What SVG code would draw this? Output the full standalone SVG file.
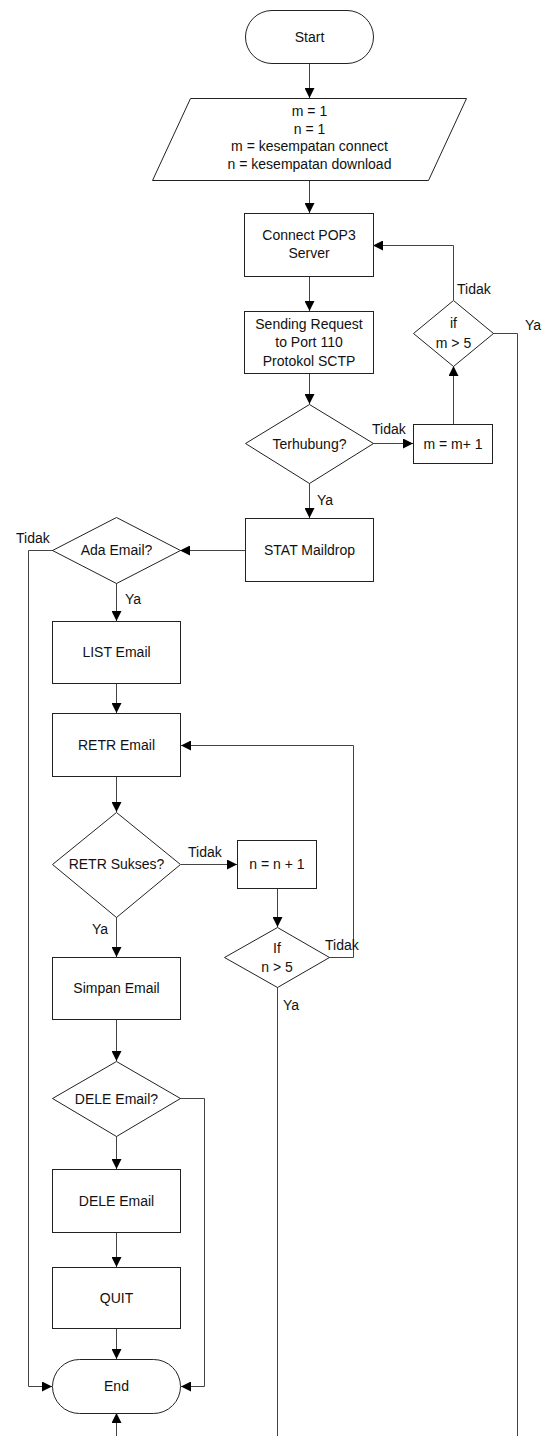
<svg xmlns="http://www.w3.org/2000/svg" width="545" height="1436" viewBox="0 0 545 1436">
<defs>
<style>
.s{fill:#fff;stroke:#222;stroke-width:1}
.c{fill:none;stroke:#444;stroke-width:1}
.t{font-family:"Liberation Sans",Arial,sans-serif;font-size:14px;fill:#111;text-anchor:middle}
.l{font-family:"Liberation Sans",Arial,sans-serif;font-size:14px;fill:#111}
</style>
<marker id="ah" markerUnits="userSpaceOnUse" markerWidth="10" markerHeight="10" refX="10" refY="5" orient="auto">
<path d="M0,0 L10,5 L0,10 z" fill="#000"/>
</marker>
</defs>
<rect width="545" height="1436" fill="#fff"/>
<g id="connectors">
<path class="c" d="M309.5,63 V98" marker-end="url(#ah)"/>
<path class="c" d="M309.5,180 V213" marker-end="url(#ah)"/>
<path class="c" d="M309.5,276 V311" marker-end="url(#ah)"/>
<path class="c" d="M309.5,373 V404" marker-end="url(#ah)"/>
<path class="c" d="M309.5,483 V518" marker-end="url(#ah)"/>
<path class="c" d="M373,443.5 H413" marker-end="url(#ah)"/>
<path class="c" d="M453.5,424 V366" marker-end="url(#ah)"/>
<path class="c" d="M453.5,300 V245.5 H373" marker-end="url(#ah)"/>
<path class="c" d="M493,333.5 H517.5 V1436"/>
<path class="c" d="M245,550.5 H180" marker-end="url(#ah)"/>
<path class="c" d="M53,550.5 H28.5 V1386.5 H52" marker-end="url(#ah)"/>
<path class="c" d="M116.5,583 V621" marker-end="url(#ah)"/>
<path class="c" d="M116.5,683 V713" marker-end="url(#ah)"/>
<path class="c" d="M116.5,776 V812" marker-end="url(#ah)"/>
<path class="c" d="M181,864.5 H237" marker-end="url(#ah)"/>
<path class="c" d="M277.5,888 V927" marker-end="url(#ah)"/>
<path class="c" d="M329,957.5 H353.5 V745.5 H181" marker-end="url(#ah)"/>
<path class="c" d="M277.5,987 V1436"/>
<path class="c" d="M116.5,917 V957" marker-end="url(#ah)"/>
<path class="c" d="M116.5,1019 V1061" marker-end="url(#ah)"/>
<path class="c" d="M116.5,1136 V1169" marker-end="url(#ah)"/>
<path class="c" d="M180,1098.5 H204.5 V1386.5 H181" marker-end="url(#ah)"/>
<path class="c" d="M116.5,1232 V1267" marker-end="url(#ah)"/>
<path class="c" d="M116.5,1328 V1359" marker-end="url(#ah)"/>
<path class="c" d="M116.5,1436 V1413" marker-end="url(#ah)"/>
<text class="l" x="372" y="434">Tidak</text>
<text class="l" x="457" y="294">Tidak</text>
<text class="l" x="525" y="330">Ya</text>
<text class="l" x="317" y="505">Ya</text>
<text class="l" x="16" y="543">Tidak</text>
<text class="l" x="125" y="604">Ya</text>
<text class="l" x="188" y="857">Tidak</text>
<text class="l" x="92" y="934">Ya</text>
<text class="l" x="325" y="950">Tidak</text>
<text class="l" x="283" y="1010">Ya</text>
</g>
<g id="start"><rect class="s" x="245.5" y="10.5" width="128" height="53" rx="26.5"/><text class="t" x="309.5" y="42">Start</text></g>
<g id="init"><polygon class="s" points="190.5,98.5 466.5,98.5 428.5,180.5 152.5,180.5"/>
<text class="t" x="309.5" y="116">m = 1</text><text class="t" x="309.5" y="133.5">n = 1</text><text class="t" x="309.5" y="151">m = kesempatan connect</text><text class="t" x="309.5" y="168.5">n = kesempatan download</text></g>
<g id="connect"><rect class="s" x="244.5" y="213.5" width="129" height="63"/><text class="t" x="309" y="240">Connect POP3</text><text class="t" x="309" y="258">Server</text></g>
<g id="sending"><rect class="s" x="244.5" y="311.5" width="129" height="62"/><text class="t" x="309" y="328.5">Sending Request</text><text class="t" x="309" y="347">to Port 110</text><text class="t" x="309" y="365.5">Protokol SCTP</text></g>
<g id="ifm"><polygon class="s" points="453.5,300.5 493.5,333.5 453.5,366.5 413.5,333.5"/><text class="t" x="453.5" y="328">if</text><text class="t" x="453.5" y="348">m &gt; 5</text></g>
<g id="terhubung"><polygon class="s" points="309.5,404.5 373.5,443.5 309.5,483.5 245.5,443.5"/><text class="t" x="309.5" y="449">Terhubung?</text></g>
<g id="mplus"><rect class="s" x="413.5" y="424.5" width="79" height="39"/><text class="t" x="453" y="448.5">m = m+ 1</text></g>
<g id="stat"><rect class="s" x="245.5" y="518.5" width="128" height="63"/><text class="t" x="309.5" y="555">STAT Maildrop</text></g>
<g id="ada"><polygon class="s" points="116.5,517.5 180.5,550.5 116.5,583.5 52.5,550.5"/><text class="t" x="116.5" y="555">Ada Email?</text></g>
<g id="list"><rect class="s" x="52.5" y="621.5" width="128" height="62"/><text class="t" x="116.5" y="657">LIST Email</text></g>
<g id="retr"><rect class="s" x="52.5" y="713.5" width="128" height="63"/><text class="t" x="116.5" y="749.5">RETR Email</text></g>
<g id="retrsukses"><polygon class="s" points="116.5,812.5 180.5,864.5 116.5,917.5 52.5,864.5"/><text class="t" x="116.5" y="869">RETR Sukses?</text></g>
<g id="nplus"><rect class="s" x="237.5" y="840.5" width="79" height="48"/><text class="t" x="277" y="869">n = n + 1</text></g>
<g id="ifn"><polygon class="s" points="277.5,927.5 329.5,957.5 277.5,987.5 224.5,957.5"/><text class="t" x="277" y="953">If</text><text class="t" x="277" y="972">n &gt; 5</text></g>
<g id="simpan"><rect class="s" x="52.5" y="957.5" width="128" height="62"/><text class="t" x="116.5" y="993">Simpan Email</text></g>
<g id="deleq"><polygon class="s" points="116.5,1061.5 180.5,1098.5 116.5,1136.5 52.5,1098.5"/><text class="t" x="116.5" y="1103.5">DELE Email?</text></g>
<g id="dele"><rect class="s" x="52.5" y="1169.5" width="128" height="63"/><text class="t" x="116.5" y="1205.5">DELE Email</text></g>
<g id="quit"><rect class="s" x="52.5" y="1267.5" width="128" height="61"/><text class="t" x="116.5" y="1302.5">QUIT</text></g>
<g id="end"><rect class="s" x="52.5" y="1359.5" width="128" height="54" rx="27"/><text class="t" x="116.5" y="1391">End</text></g>
</svg>
